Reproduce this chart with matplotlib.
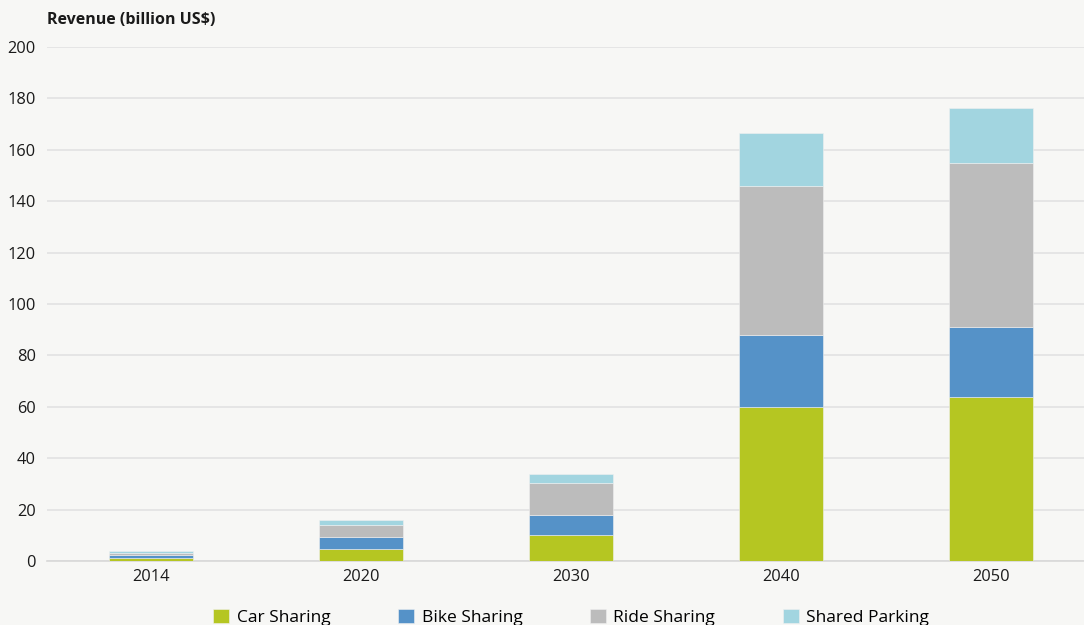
import numpy as np
import matplotlib.pyplot as plt

years = ["2014", "2020", "2030", "2040", "2050"]
car_sharing = [1.0, 4.7, 10.1, 60.0, 64.0]
bike_sharing = [1.3, 4.8, 7.8, 28.0, 27.2]
ride_sharing = [0.7, 4.5, 12.6, 58.0, 63.7]
shared_parking = [0.9, 2.0, 3.4, 20.7, 21.2]

series = [
    ("Car Sharing", car_sharing, "#b5c622"),
    ("Bike Sharing", bike_sharing, "#5592c8"),
    ("Ride Sharing", ride_sharing, "#bcbcbc"),
    ("Shared Parking", shared_parking, "#a2d5e0"),
]

plt.rcParams['font.family'] = ['Open Sans', 'DejaVu Sans']
bg = "#f7f7f5"

fig = plt.figure(figsize=(10.84, 6.25), dpi=100, facecolor=bg)
ax = fig.add_axes([0.0434, 0.1024, 0.9566, 0.8224], facecolor=bg)

x = np.arange(len(years))
bottom = np.zeros(len(years))
for name, vals, color in series:
    ax.bar(x, vals, width=0.4, bottom=bottom, color=color, label=name,
           edgecolor="#f0f0f0", linewidth=0.4, zorder=3)
    bottom += np.array(vals)

ax.set_ylim(0, 200)
ax.set_xlim(-0.495, 4.443)
ax.set_yticks(range(0, 201, 20))
ax.set_xticks(x)
ax.set_xticklabels(years)
ax.yaxis.grid(True, color="#e2e2e2", linewidth=1.2, zorder=0)
ax.tick_params(axis="both", length=0, labelsize=11.8, colors="#1a1a1a")
ax.tick_params(axis="y", pad=8)
ax.tick_params(axis="x", pad=6)
for side in ["top", "right", "left"]:
    ax.spines[side].set_visible(False)
ax.spines["bottom"].set_color("#d8d8d8")
ax.spines["bottom"].set_linewidth(1.2)

fig.text(0.0434, 0.968, "Revenue (billion US$)", fontsize=11.5, fontweight="bold",
         color="#1a1a1a", va="center")

fig.legend(loc="center", bbox_to_anchor=(0.527, 0.012), ncol=4, frameon=False,
           fontsize=12.5, handlelength=0.9, handleheight=0.9, handletextpad=0.45,
           columnspacing=3.9)

fig.savefig("out.png", dpi=100, facecolor=bg)
